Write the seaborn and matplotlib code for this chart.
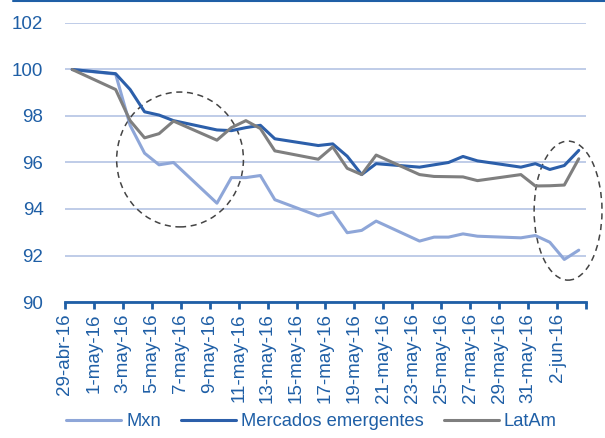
import numpy as np
import pandas as pd
import matplotlib
matplotlib.use("Agg")
import matplotlib.pyplot as plt
from matplotlib.patches import Ellipse
import seaborn as sns

sns.set_style("white")
plt.rcParams["font.family"] = ["Liberation Sans", "DejaVu Sans"]

# business days, as day offsets from 29-abr-16
days = [0, 3, 4, 5, 6, 7, 10, 11, 12, 13, 14, 17, 18, 19, 20, 21,
        24, 25, 26, 27, 28, 31, 32, 33, 34, 35]

mxn = [100, 99.8, 97.6, 96.4, 95.9, 96.0, 94.25, 95.35, 95.35, 95.44, 94.4,
       93.7, 93.87, 92.98, 93.08, 93.48, 92.62, 92.79, 92.79, 92.93, 92.83,
       92.76, 92.86, 92.57, 91.83, 92.23]
emergentes = [100, 99.82, 99.14, 98.18, 98.04, 97.8, 97.4, 97.37, 97.5, 97.6,
              97.02, 96.73, 96.8, 96.27, 95.48, 95.95, 95.8, 95.9, 96.0, 96.26,
              96.07, 95.8, 95.95, 95.7, 95.87, 96.52]
latam = [100, 99.14, 97.8, 97.06, 97.24, 97.78, 96.96, 97.5, 97.8, 97.46,
         96.5, 96.14, 96.67, 95.75, 95.48, 96.32, 95.48, 95.4, 95.39, 95.38,
         95.22, 95.48, 94.99, 95.0, 95.03, 96.16]

series = ["Mxn", "Mercados emergentes", "LatAm"]
colors = ["#8ea6d8", "#2c5faa", "#7f7f7f"]

tick_days = list(range(0, 37, 2))
tick_labels = ["29-abr-16", "1-may-16", "3-may-16", "5-may-16", "7-may-16",
               "9-may-16", "11-may-16", "13-may-16", "15-may-16", "17-may-16",
               "19-may-16", "21-may-16", "23-may-16", "25-may-16", "27-may-16",
               "29-may-16", "31-may-16", "2-jun-16", ""]

df = pd.DataFrame({
    "day": np.array(days * 3) + 0.5,
    "value": mxn + emergentes + latam,
    "serie": np.repeat(series, len(days)),
})

blue_text = "#1f5fa6"

fig = plt.figure(figsize=(6.05, 4.38), dpi=100)
ax = fig.add_axes([0.1074, 0.3105, 0.8612, 0.637])

sns.lineplot(data=df, x="day", y="value", hue="serie", hue_order=series,
             palette=colors, linewidth=2.2, ax=ax, legend=False)

ax.set_xlim(0, 36)
ax.set_ylim(90, 102)
ax.set_yticks(range(90, 103, 2))
ax.set_xticks(tick_days)
ax.set_xticklabels(tick_labels, rotation=90)
ax.set_xlabel("")
ax.set_ylabel("")
ax.grid(axis="y", color="#b4c4e4", linewidth=1.2)
ax.set_axisbelow(True)
for s in ["left", "right", "top"]:
    ax.spines[s].set_visible(False)
ax.spines["bottom"].set_color(blue_text)
ax.spines["bottom"].set_linewidth(2)
ax.tick_params(axis="x", bottom=True, length=5, width=2, color=blue_text,
               labelsize=13.5, labelcolor=blue_text, pad=3)
ax.tick_params(axis="y", left=False, labelsize=13.5, labelcolor=blue_text, pad=12)

# dashed ellipses highlighting episodes
ax.add_patch(Ellipse((7.95, 96.13), 8.76, 5.8, fill=False, linestyle=(0, (4, 3)),
                     edgecolor="#444444", linewidth=1.1, clip_on=False))
ax.add_patch(Ellipse((34.76, 93.93), 4.69, 5.98, fill=False, linestyle=(0, (4, 3)),
                     edgecolor="#444444", linewidth=1.1, clip_on=False))

# thin rule at the top of the figure
fig.add_artist(plt.Line2D([0.021, 1.0], [0.997, 0.997], color="#1f5fa6", linewidth=1.5))

handles = [plt.Line2D([], [], color=c, linewidth=2.2) for c in colors]
fig.legend(handles, series, loc="center", bbox_to_anchor=(0.515, 0.037), ncol=3,
           frameon=False, fontsize=13.2, handlelength=3.0, columnspacing=1.1,
           handletextpad=0.27, labelcolor=blue_text)

fig.savefig("out.png", dpi=100)
